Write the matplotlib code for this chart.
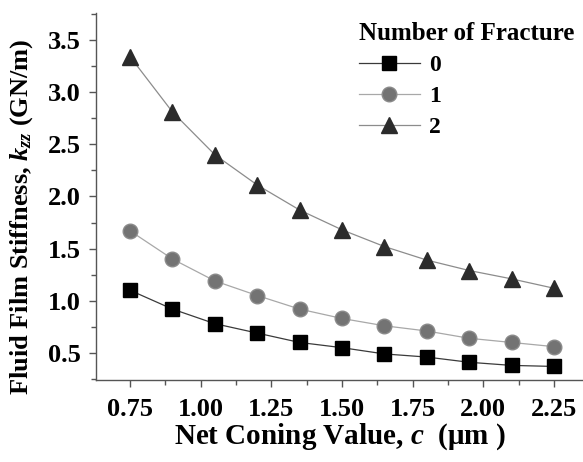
import matplotlib
matplotlib.use("Agg")
import matplotlib.pyplot as plt
from matplotlib.ticker import MultipleLocator

plt.rcParams['font.family'] = ['Liberation Serif', 'DejaVu Serif']
plt.rcParams['font.weight'] = 'bold'
plt.rcParams['mathtext.fontset'] = 'custom'
plt.rcParams['mathtext.rm'] = 'Liberation Serif:bold'
plt.rcParams['mathtext.it'] = 'Liberation Serif:bold:italic'
plt.rcParams['mathtext.bf'] = 'Liberation Serif:bold'

# net coning value c (um)
coning = [0.75, 0.90, 1.05, 1.20, 1.35, 1.50, 1.65, 1.80, 1.95, 2.10, 2.25]
# fluid film stiffness (GN/m) per number of fractures
k_frac0 = [1.10, 0.92, 0.78, 0.69, 0.60, 0.55, 0.49, 0.46, 0.41, 0.38, 0.37]
k_frac1 = [1.67, 1.40, 1.19, 1.05, 0.92, 0.83, 0.76, 0.71, 0.64, 0.60, 0.56]
k_frac2 = [3.34, 2.81, 2.40, 2.11, 1.87, 1.68, 1.52, 1.39, 1.29, 1.21, 1.12]
labels = ['0', '1', '2']

fig = plt.figure(figsize=(5.83, 4.62), dpi=100)
ax = fig.add_axes([0.165, 0.1775, 0.835, 0.7945])

ax.plot(coning, k_frac0, '-', color='#3a3a3a', lw=0.9, marker='s', ms=10,
        mfc='black', mec='black', label=labels[0])
ax.plot(coning, k_frac1, '-', color='#a8a8a8', lw=0.9, marker='o', ms=10.5,
        mfc='#737373', mec='#8a8a8a', label=labels[1])
ax.plot(coning, k_frac2, '-', color='#8c8c8c', lw=0.9, marker='^', ms=12,
        mfc='#2b2b2b', mec='#2b2b2b', label=labels[2])

ax.set_xlim(0.63, 2.353)
ax.set_ylim(0.24, 3.76)
ax.xaxis.set_major_locator(MultipleLocator(0.25))
ax.xaxis.set_minor_locator(MultipleLocator(0.125))
ax.yaxis.set_major_locator(MultipleLocator(0.5))
ax.yaxis.set_minor_locator(MultipleLocator(0.25))

for s in ['top', 'right']:
    ax.spines[s].set_visible(False)
for s in ['left', 'bottom']:
    ax.spines[s].set_color('#555555')
    ax.spines[s].set_linewidth(1.0)

ax.tick_params(axis='both', which='major', direction='out', length=5, width=1,
               color='#555555', labelsize=19)
ax.tick_params(axis='both', which='minor', direction='out', length=3.5, width=1,
               color='#555555')
ax.tick_params(axis='x', which='major', pad=8)
ax.tick_params(axis='y', which='major', pad=6)
ax.xaxis.set_major_formatter(matplotlib.ticker.FormatStrFormatter('%.2f'))
ax.yaxis.set_major_formatter(matplotlib.ticker.FormatStrFormatter('%.1f'))

ax.set_xlabel('Net Coning Value, $c$  ($\\mathrm{\\mu}$m )', fontsize=21,
              fontweight='bold', labelpad=0)
ax.set_ylabel('Fluid Film Stiffness, $k_{zz}$ (GN/m)', fontsize=19,
              fontweight='bold')
ax.yaxis.set_label_coords(-0.125, 0.445)

leg = ax.legend(title='Number of Fracture', loc='upper left',
                bbox_to_anchor=(0.505, 1.02), frameon=False, fontsize=17,
                title_fontproperties={'weight': 'bold', 'size': 18},
                alignment='left', handlelength=2.6, handletextpad=0.4,
                labelspacing=0.4, borderpad=0.2)

fig.savefig('out.png', dpi=100)
